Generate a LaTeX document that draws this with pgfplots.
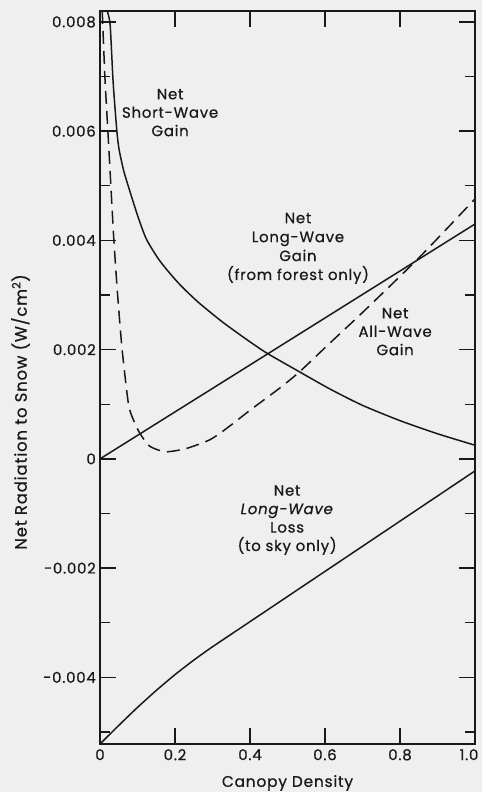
\documentclass[border=0pt]{standalone}
\usepackage{fontspec}
\setmainfont{Poppins}[FakeBold=0.6, LetterSpace=5]
\usepackage{pgfplots}
\pgfplotsset{compat=1.18}
\definecolor{bg}{RGB}{239,239,239}
\definecolor{ink}{RGB}{25,25,25}
\begin{document}
\fontsize{15}{19}\selectfont
\begin{tikzpicture}
\fill[bg] (-100bp,-48bp) rectangle (382bp,744bp);
\useasboundingbox (-100bp,-48bp) rectangle (382bp,744bp);
\begin{axis}[
 scale only axis, width=375bp, height=733bp,
 xmin=0, xmax=1, ymin=-5.22, ymax=8.2,
 xtick={0,0.2,0.4,0.6,0.8}, xticklabels={0,0.2,0.4,0.6,0.8},
 extra x ticks={1.0}, extra x tick labels={1.0},
 extra x tick style={xticklabel style={xshift=-6bp}},
 ytick={-4,-2,0,2,4,6,8}, yticklabels={-0.004,-0.002,0,0.002,0.004,0.006,0.008},
 minor ytick={-5,-3,-1,1,3,5,7},
 tick align=inside, major tick length=16bp, minor tick length=10bp,
 axis line style={ink, line width=1.6bp},
 every tick/.style={ink, line width=1.4bp},
 ticklabel style={font=\fontsize{15}{17}\selectfont, text=ink},
 yticklabel style={xshift=1bp},
 xlabel={Canopy Density},
 ylabel={Net Radiation to Snow (W/cm\textsuperscript{2})},
 xlabel style={at={(axis description cs:0.5,0)}, yshift=-39bp, anchor=center, font=\fontsize{15.5}{17}\selectfont, text=ink},
 ylabel style={at={(axis description cs:-0.212,0.453)}, anchor=center, font=\fontsize{16.5}{18}\selectfont, text=ink},
 clip=true,
]
% Net short-wave gain
\addplot[ink, line width=1.5bp, smooth, tension=0.4] coordinates {
 (0.019,8.2) (0.027,7.95) (0.035,6.9) (0.045,6.0) (0.051,5.66) (0.063,5.28) (0.076,4.98)
 (0.101,4.44) (0.124,4.02) (0.16,3.62) (0.209,3.22) (0.26,2.88) (0.324,2.52)
 (0.384,2.22) (0.444,1.94) (0.533,1.59) (0.613,1.28) (0.7,0.98) (0.8,0.70) (0.9,0.46) (1.0,0.25)
};
% Net long-wave gain (from forest only)
\addplot[ink, line width=1.5bp] coordinates {(0,0) (1.0,4.3)};
% Net all-wave gain
\addplot[ink, line width=1.5bp, dash pattern=on 13bp off 7bp, smooth, tension=0.4] coordinates {
 (0.006,8.2) (0.013,7.0) (0.021,6.0) (0.029,5.0) (0.037,4.0) (0.047,3.0) (0.059,2.0)
 (0.076,1.0) (0.09,0.7) (0.107,0.46) (0.133,0.23) (0.175,0.13) (0.23,0.19) (0.293,0.35)
 (0.34,0.57) (0.4,0.89) (0.48,1.30) (0.533,1.60) (0.613,2.12) (0.7,2.68) (0.853,3.70) (1.0,4.76)
};
% Net long-wave loss (to sky only)
\addplot[ink, line width=1.5bp, smooth, tension=0.4] coordinates {
 (0,-5.22) (0.05,-4.88) (0.1,-4.55) (0.15,-4.24) (0.2,-3.95) (0.25,-3.685) (0.3,-3.44)
 (0.4,-2.98) (0.6,-2.06) (0.8,-1.14) (1.0,-0.22)
};
\node[align=center, text=ink, font=\fontsize{15}{18.5}\selectfont] at (axis cs:0.187,6.34) {Net\\Short-Wave\\Gain};
\node[align=center, text=ink, font=\fontsize{15}{19}\selectfont] at (axis cs:0.528,3.855) {Net\\Long-Wave\\Gain\\(from forest only)};
\node[align=center, text=ink, font=\fontsize{15}{18.5}\selectfont] at (axis cs:0.787,2.33) {Net\\All-Wave\\Gain};
\node[align=center, text=ink, font=\fontsize{15}{18.5}\selectfont] at (axis cs:0.499,-1.12) {Net\\\textit{Long-Wave}\\Loss\\(to sky only)};
\end{axis}
\end{tikzpicture}
\end{document}
